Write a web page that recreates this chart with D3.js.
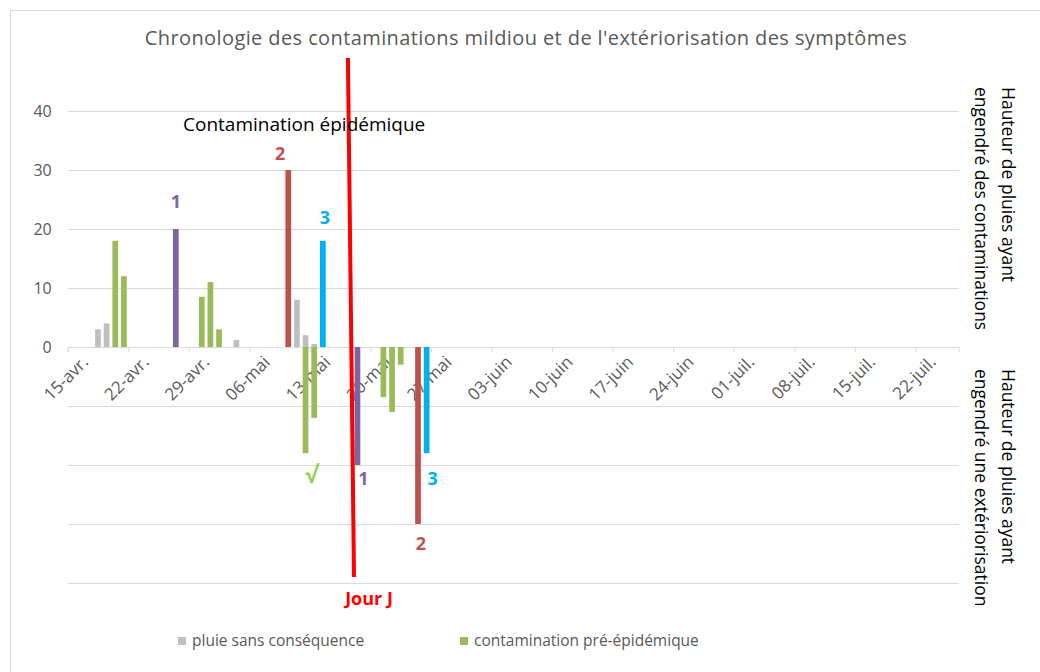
<!DOCTYPE html>
<html>
<head>
<meta charset="utf-8">
<script src="https://cdn.jsdelivr.net/npm/d3@7"></script>
<style>
  body { margin: 0; background: #fff; }
  svg { display: block; }
  text { font-family: "Open Sans", sans-serif; }
</style>
</head>
<body>
<div id="chart"></div>
<script>
// rain heights (mm) per day, positive = contamination, negative = exteriorisation
const pluieSansConsequence = [["2019-04-18", 3], ["2019-04-19", 4], ["2019-05-04", 1.2], ["2019-05-11", 8], ["2019-05-12", 2], ["2019-05-13", 0.5]]
const preEpidemique = [["2019-04-20", 18], ["2019-04-21", 12], ["2019-04-30", 8.5], ["2019-05-01", 11], ["2019-05-02", 3],
  ["2019-05-12", -18], ["2019-05-13", -12], ["2019-05-21", -8.5], ["2019-05-22", -11], ["2019-05-23", -3]]
const contamination1 = [["2019-04-27", 20], ["2019-05-18", -20]]
const contamination2 = [["2019-05-10", 30], ["2019-05-25", -30]]
const contamination3 = [["2019-05-14", 18], ["2019-05-26", -18]]
const jourJ = [["2019-05-17T09:36Z", 49], ["2019-05-18T02:24Z", -39]]

const tickLabels = ["15-avr.", "22-avr.", "29-avr.", "06-mai", "13-mai", "20-mai", "27-mai", "03-juin",
  "10-juin", "17-juin", "24-juin", "01-juil.", "08-juil.", "15-juil.", "22-juil."]
const yTicks = [-40, -30, -20, -10, 0, 10, 20, 30, 40]
const legendLabels = ["pluie sans conséquence", "contamination pré-épidémique"]

const width = 1040
const height = 672

const parse = d3.utcParse("%Y-%m-%d")
const start = parse("2019-04-15")
const end = parse("2019-07-27")

const x = d3.scaleUtc().domain([start, end]).range([67.7, 958.6])
const y = d3.scaleLinear().domain([-40, 40]).range([583, 111])

const svg = d3.select("#chart").append("svg")
    .attr("width", width)
    .attr("height", height)

// chart frame
svg.append("rect")
    .attr("x", 10.5).attr("y", 10.5)
    .attr("width", 1100).attr("height", 800)
    .attr("fill", "none")
    .attr("stroke", "#D9D9D9")

svg.append("text")
    .attr("x", 526).attr("y", 45)
    .attr("text-anchor", "middle")
    .attr("fill", "#595959")
    .attr("font-size", 20)
    .attr("letter-spacing", 0.4)
    .text("Chronologie des contaminations mildiou et de l'extériorisation des symptômes")

// gridlines + left labels
const yAxis = svg.append("g")
    .attr("transform", `translate(${x.range()[0]},0)`)
    .call(d3.axisLeft(y).tickValues(yTicks)
      .tickSize(-(x.range()[1] - x.range()[0]))
      .tickPadding(16)
      .tickFormat(d => d >= 0 ? d : ""))
yAxis.select(".domain").remove()
yAxis.selectAll(".tick line").attr("stroke", "#D9D9D9")
yAxis.selectAll(".tick text")
    .attr("fill", "#595959")
    .attr("font-size", 16)
    .attr("font-family", "Open Sans, sans-serif")

// date axis
const tickDates = d3.utcDay.range(start, end, 7)
const xAxis = svg.append("g")
    .attr("transform", `translate(0,${y(0)})`)
    .call(d3.axisBottom(x).tickValues(tickDates).tickSize(5).tickFormat((d, i) => tickLabels[i]))
xAxis.select(".domain").attr("stroke", "#D9D9D9")
xAxis.selectAll(".tick line").attr("stroke", "#D9D9D9")
xAxis.selectAll(".tick text")
    .attr("fill", "#595959")
    .attr("font-size", 17)
    .attr("font-family", "Open Sans, sans-serif")
    .attr("text-anchor", "end")
    .attr("dy", "0.71em")
    .attr("transform", "translate(7,2) rotate(-45)")

// bars
const series = [
  { data: pluieSansConsequence, color: "#BFBFBF" },
  { data: preEpidemique, color: "#9BBB59" },
  { data: contamination1, color: "#8064A2" },
  { data: contamination2, color: "#C0504D" },
  { data: contamination3, color: "#00B0F0" }
]

const dayW = x(d3.utcDay.offset(start, 1)) - x(start)
const barW = dayW * 0.66

series.forEach(s => {
  svg.append("g")
    .selectAll("rect")
    .data(s.data)
    .join("rect")
      .attr("x", d => x(parse(d[0])) + (dayW - barW) / 2)
      .attr("width", barW)
      .attr("y", d => y(Math.max(0, d[1])))
      .attr("height", d => Math.abs(y(d[1]) - y(0)))
      .attr("fill", s.color)
})

// Jour J line
svg.append("line")
    .attr("x1", x(new Date(jourJ[0][0]))).attr("y1", y(jourJ[0][1]))
    .attr("x2", x(new Date(jourJ[1][0]))).attr("y2", y(jourJ[1][1]))
    .attr("stroke", "#FF0000")
    .attr("stroke-width", 4)

// number labels on the bars
const barCenter = date => x(parse(date)) + dayW / 2
const marks = [
  { date: "2019-04-27", v: 20, text: "1", color: "#8064A2", dx: 0, dy: -21, size: 18 },
  { date: "2019-05-10", v: 30, text: "2", color: "#C0504D", dx: -8, dy: -10, size: 18 },
  { date: "2019-05-14", v: 18, text: "3", color: "#00B0F0", dx: 2, dy: -17, size: 18 },
  { date: "2019-05-12", v: -18, text: "√", color: "#92D050", dx: 6, dy: 30, size: 23 },
  { date: "2019-05-18", v: -20, text: "1", color: "#8064A2", dx: 6, dy: 20, size: 18 },
  { date: "2019-05-26", v: -18, text: "3", color: "#00B0F0", dx: 6, dy: 32, size: 18 },
  { date: "2019-05-25", v: -30, text: "2", color: "#C0504D", dx: 3, dy: 26, size: 18 }
]
svg.append("g")
  .selectAll("text")
  .data(marks)
  .join("text")
    .attr("x", d => barCenter(d.date) + d.dx)
    .attr("y", d => y(d.v) + d.dy)
    .attr("text-anchor", "middle")
    .attr("fill", d => d.color)
    .attr("font-size", d => d.size)
    .attr("font-weight", "bold")
    .text(d => d.text)

svg.append("text")
    .attr("x", 369).attr("y", 605)
    .attr("text-anchor", "middle")
    .attr("fill", "#FF0000")
    .attr("font-size", 18)
    .attr("font-weight", "bold")
    .text("Jour J")

svg.append("text")
    .attr("x", 183).attr("y", 131)
    .attr("fill", "#000")
    .attr("font-size", 19)
    .text("Contamination épidémique")

// right side titles
const rightTitles = [
  { y: 87, lines: ["Hauteur de pluies ayant", "engendré des contaminations"] },
  { y: 369, lines: ["Hauteur de pluies ayant", "engendré une extériorisation"] }
]
rightTitles.forEach(t => {
  const txt = svg.append("text")
      .attr("transform", `translate(1002,${t.y}) rotate(90)`)
      .attr("fill", "#000")
      .attr("font-size", 17.5)
  t.lines.forEach((l, i) => {
    txt.append("tspan").attr("x", 0).attr("y", i * 27).text(l)
  })
})

// legend
const legend = svg.append("g")
  .selectAll("g")
  .data(legendLabels)
  .join("g")
    .attr("transform", (d, i) => `translate(${[178, 460][i]},637)`)
legend.append("rect")
    .attr("width", 8).attr("height", 8)
    .attr("fill", (d, i) => series[i].color)
legend.append("text")
    .attr("x", 14).attr("y", 9)
    .attr("fill", "#595959")
    .attr("font-size", 15.5)
    .text(d => d)
</script>
</body>
</html>
